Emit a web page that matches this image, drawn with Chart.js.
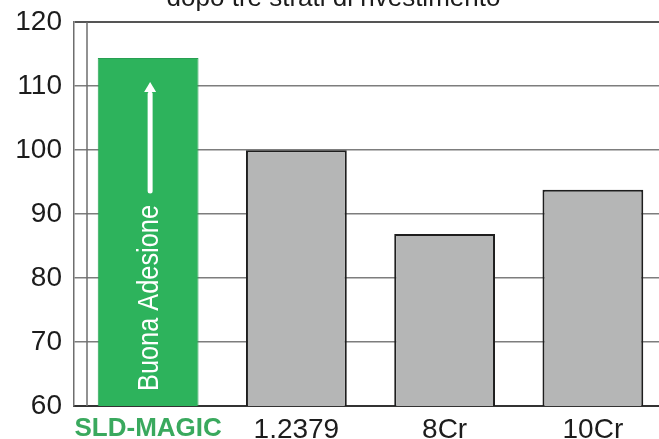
<!DOCTYPE html>
<html>
<head>
<meta charset="utf-8">
<script src="https://cdn.jsdelivr.net/npm/chart.js@4.4.1/dist/chart.umd.min.js"></script>
<style>
  html, body { margin: 0; padding: 0; background: #fff; }
  #wrap { position: relative; width: 659px; height: 439px; overflow: hidden; }
  #chart { position: absolute; left: 0; top: -17px; }
</style>
</head>
<body>
<div id="wrap"><canvas id="chart" width="742" height="470"></canvas></div>
<script>
  // === Dati ===
  const TITLE = "dopo tre strati di rivestimento";
  const CATEGORIES = ["SLD-MAGIC", "1.2379", "8Cr", "10Cr"];
  const VALUES = [114.4, 100, 86.9, 93.8];
  const Y_MIN = 60, Y_MAX = 120, Y_STEP = 10;
  const BAR_NOTE = "Buona Adesione";

  // === Stile ===
  const GREEN = "#2db35c";
  const GRAY = "#b5b6b6";
  const TXT = "#1c1c1c";

  // linea interna del riquadro + freccia/testo dentro la barra verde
  const extras = {
    id: "extras",
    afterDatasetsDraw(chart) {
      const { ctx, chartArea } = chart;
      ctx.save();
      ctx.strokeStyle = "#6e6e6e";
      ctx.lineWidth = 1.5;
      ctx.beginPath();
      ctx.moveTo(chartArea.left + 13, chartArea.top);
      ctx.lineTo(chartArea.left + 13, chartArea.bottom);
      ctx.stroke();

      const bar = chart.getDatasetMeta(0).data[0];
      const cx = bar.x + 2;
      // freccia
      ctx.strokeStyle = "#fff";
      ctx.fillStyle = "#fff";
      ctx.lineWidth = 5;
      ctx.lineCap = "round";
      ctx.beginPath();
      ctx.moveTo(cx, bar.y + 133);
      ctx.lineTo(cx, bar.y + 36);
      ctx.stroke();
      ctx.beginPath();
      ctx.moveTo(cx, bar.y + 24);
      ctx.lineTo(cx - 6, bar.y + 34);
      ctx.lineTo(cx + 6, bar.y + 34);
      ctx.closePath();
      ctx.fill();
      // testo verticale
      ctx.translate(cx, bar.y + 240);
      ctx.rotate(-Math.PI / 2);
      ctx.font = "30px 'Liberation Sans Narrow', 'Liberation Sans', Arial, sans-serif";
      ctx.textAlign = "center";
      ctx.textBaseline = "middle";
      ctx.fillText(BAR_NOTE, 0, 0, 186);
      ctx.restore();
    }
  };

  new Chart(document.getElementById("chart"), {
    type: "bar",
    data: {
      labels: CATEGORIES,
      datasets: [{
        data: VALUES,
        backgroundColor: CATEGORIES.map((c, i) => i === 0 ? GREEN : GRAY),
        borderColor: CATEGORIES.map((c, i) => i === 0 ? "#27a052" : "#1e1e1e"),
        borderWidth: CATEGORIES.map((c, i) => i === 0 ? 1 : 2),
        borderSkipped: "bottom",
        categoryPercentage: 1,
        barPercentage: 0.68
      }]
    },
    options: {
      responsive: false,
      animation: false,
      layout: { padding: { left: 0, right: 75, top: 0, bottom: 0 } },
      plugins: {
        legend: { display: false },
        tooltip: { enabled: false },
        title: {
          display: true,
          text: TITLE,
          color: TXT,
          font: { family: "'Liberation Sans', Arial, sans-serif", size: 26, weight: "normal" },
          padding: { top: 0, bottom: 8 }
        }
      },
      scales: {
        x: {
          grid: { display: false, drawTicks: false },
          border: { display: true, color: "#333", width: 2 },
          afterFit(s) { s.height = 47; },
          ticks: {
            padding: 7,
            maxRotation: 0,
            autoSkip: false,
            color: (c) => c.index === 0 ? "#3aa95e" : TXT,
            font: (c) => c.index === 0
              ? { family: "'Liberation Sans', Arial, sans-serif", size: 26, weight: "bold" }
              : { family: "'Liberation Sans', Arial, sans-serif", size: 28, weight: "normal" }
          }
        },
        y: {
          min: Y_MIN,
          max: Y_MAX,
          afterFit(s) { s.width = 74; },
          grid: {
            drawTicks: false,
            color: (c) => c.tick && c.tick.value === Y_MAX ? "#555" : "#7d7d7d",
            lineWidth: (c) => c.tick && c.tick.value === Y_MAX ? 2 : 1.5
          },
          border: { display: true, color: "#6e6e6e", width: 1.5 },
          ticks: {
            stepSize: Y_STEP,
            padding: 12,
            color: TXT,
            font: { family: "'Liberation Sans', Arial, sans-serif", size: 28 }
          }
        }
      }
    },
    plugins: [extras]
  });
</script>
</body>
</html>
